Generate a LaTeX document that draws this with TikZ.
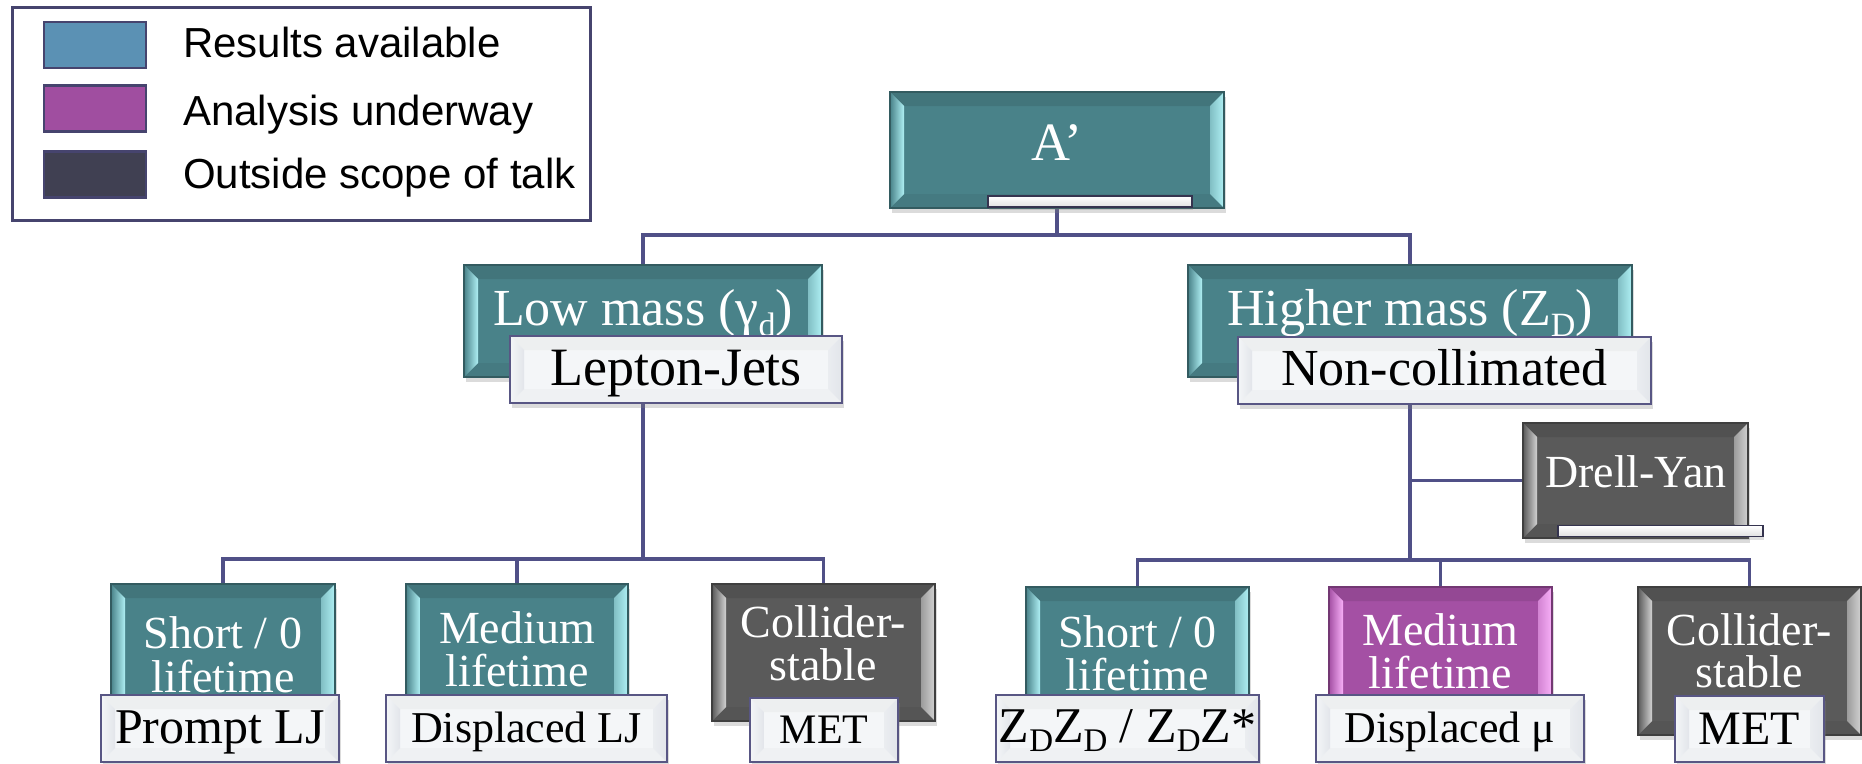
\documentclass[tikz,border=0pt]{standalone}
\usepackage{fontspec}
\setmainfont{Liberation Serif}
\newfontfamily\legendfont{Liberation Sans}
\usetikzlibrary{shadows}
\pgfdeclarelayer{bottom}
\pgfdeclarelayer{wires}
\pgfsetlayers{bottom,wires,main}
\definecolor{tealA}{RGB}{73,130,137}
\definecolor{tealL}{RGB}{175,240,244}
\definecolor{grayA}{RGB}{90,90,90}
\definecolor{grayL}{RGB}{210,210,210}
\definecolor{purpA}{RGB}{164,80,164}
\definecolor{purpL}{RGB}{248,175,248}
\definecolor{whiteA}{RGB}{244,246,248}
\definecolor{whiteL}{RGB}{226,229,234}
\definecolor{edgeC}{RGB}{88,86,132}
\definecolor{lineC}{RGB}{80,80,135}
\definecolor{legBlue}{RGB}{91,145,180}
\definecolor{legPurp}{RGB}{160,78,160}
\definecolor{legDark}{RGB}{64,64,82}
\definecolor{legEdge}{RGB}{70,68,110}
\newcommand\ppbb{path picture bounding box}
\newcommand\sbig[1]{\raisebox{-11pt}{\fontsize{34}{34}\selectfont #1}}
\newcommand\ssml[1]{\raisebox{-9pt}{\fontsize{33}{33}\selectfont #1}}
\tikzset{
  bevelbox/.style n args={5}{draw=#3, line width=1.2pt, fill=#1, inner sep=0pt, outer sep=0pt,
    drop shadow={opacity=0.28, shadow xshift=2pt, shadow yshift=-5pt},
    path picture={
      \fill[#4] (\ppbb.north west) -- (\ppbb.north east)
        -- ([xshift=-14pt,yshift=-14pt]\ppbb.north east) -- ([xshift=14pt,yshift=-14pt]\ppbb.north west) -- cycle;
      \fill[#5] (\ppbb.south west) -- (\ppbb.south east)
        -- ([xshift=-14pt,yshift=14pt]\ppbb.south east) -- ([xshift=14pt,yshift=14pt]\ppbb.south west) -- cycle;
      \shade[left color=#1, right color=#2] (\ppbb.north west) -- ([xshift=14pt,yshift=-14pt]\ppbb.north west)
        -- ([xshift=14pt,yshift=14pt]\ppbb.south west) -- (\ppbb.south west) -- cycle;
      \shade[left color=#2!55!#1, right color=#2] (\ppbb.north east) -- ([xshift=-14pt,yshift=-14pt]\ppbb.north east)
        -- ([xshift=-14pt,yshift=14pt]\ppbb.south east) -- (\ppbb.south east) -- cycle;
    }},
  tealbox/.style={bevelbox={tealA}{tealL}{tealA!70!black}{tealA!90!black}{tealA!94!black}},
  graybox/.style={bevelbox={grayA}{grayL}{grayA!70!black}{grayA!90!black}{grayA!94!black}},
  purpbox/.style={bevelbox={purpA}{purpL}{purpA!70!black}{purpA!90!black}{purpA!94!black}},
  labelbox/.style={bevelbox={whiteA}{whiteL}{edgeC}{whiteA!97!black}{whiteA!98!black}, line width=1.6pt},
  barbox/.style={draw=edgeC!60!black, line width=1.6pt, top color=white, bottom color=black!12,
    inner sep=0pt, outer sep=0pt, minimum height=11pt,
    drop shadow={opacity=0.25, shadow xshift=1pt, shadow yshift=-3pt}},
  wtxt/.style={text=white, inner sep=0pt, anchor=base, font=\fontsize{46}{44}\selectfont},
  wtxtL/.style={text=white, inner sep=0pt, anchor=base, font=\fontsize{52}{52}\selectfont},
  btxt/.style={text=black, inner sep=0pt, anchor=base, font=\fontsize{46}{44}\selectfont},
  btxtL/.style={text=black, inner sep=0pt, anchor=base, font=\fontsize{52}{52}\selectfont},
  conn/.style={draw=lineC, line width=3.5pt},
  legtxt/.style={inner sep=0pt, anchor=base west, font=\legendfont\fontsize{42}{42}\selectfont},
  swatch/.style={draw=legEdge, line width=2.5pt, minimum width=102pt, minimum height=46pt, inner sep=0pt},
}
\begin{document}
\begin{tikzpicture}[x=1pt, y=-1pt]
\begin{pgfonlayer}{bottom}
\fill[white] (0,0) rectangle (1862,763);
\end{pgfonlayer}
\useasboundingbox (0,0) rectangle (1862,763);
% legend
\node[draw=legEdge, line width=3pt, fill=white, minimum width=578pt, minimum height=213pt, inner sep=0pt] (legend) at (301,113.5) {};
\node[swatch, fill=legBlue] (sw1) at (95,45) {};
\node[swatch, fill=legPurp] (sw2) at (95,108.5) {};
\node[swatch, fill=legDark] (sw3) at (95,174.5) {};
\node[legtxt] (lt1) at (183,57) {Results available};
\node[legtxt] (lt2) at (183,125) {Analysis underway};
\node[legtxt] (lt3) at (183,188) {Outside scope of talk};
% root
\node[tealbox, minimum width=334pt, minimum height=116pt] (ap) at (1057,150) {};
\node[wtxt, font=\fontsize{54}{54}\selectfont] (tap) at (1057,160) {A’};
\node[barbox, minimum width=204pt] (apbar) at (1090,201.5) {};
% level 1
\node[tealbox, minimum width=358pt, minimum height=112pt] (low) at (643,321) {};
\node[wtxtL] (tlow) at (643,325) {Low mass (γ\sbig{d})};
\node[labelbox, minimum width=332pt, minimum height=67pt] (lj) at (676,369.5) {};
\node[btxtL, font=\fontsize{54}{54}\selectfont] (tlj) at (676,385) {Lepton-Jets};
\node[tealbox, minimum width=444pt, minimum height=112pt] (high) at (1410,321) {};
\node[wtxtL] (thigh) at (1410,325) {Higher mass (Z\sbig{D})};
\node[labelbox, minimum width=413pt, minimum height=67pt] (nc) at (1444.5,370.5) {};
\node[btxtL] (tnc) at (1444.5,385) {Non-collimated};
% Drell-Yan
\node[graybox, minimum width=225pt, minimum height=115pt] (dy) at (1635.5,480.5) {};
\node[wtxt] (tdy) at (1636,487) {Drell-Yan};
\node[barbox, minimum width=205pt] (dybar) at (1660.5,531) {};
% bottom row, left
\node[tealbox, minimum width=224pt, minimum height=144pt] (b1) at (223,656) {};
\node[wtxt] (b1a) at (223,648) {Short / 0};
\node[wtxt] (b1b) at (223,692) {lifetime};
\node[labelbox, minimum width=238pt, minimum height=67pt] (l1) at (220,728.5) {};
\node[btxt, font=\fontsize{50}{50}\selectfont] (tl1) at (220,743) {Prompt LJ};
\node[tealbox, minimum width=222pt, minimum height=144pt] (b2) at (517,656) {};
\node[wtxt] (b2a) at (517,643) {Medium};
\node[wtxt] (b2b) at (517,686) {lifetime};
\node[labelbox, minimum width=281pt, minimum height=67pt] (l2) at (526.5,728.5) {};
\node[btxt, font=\fontsize{44}{44}\selectfont] (tl2) at (526.5,742) {Displaced LJ};
\node[graybox, minimum width=223pt, minimum height=137pt] (b3) at (823.5,652.5) {};
\node[wtxt] (b3a) at (823.5,637) {Collider-};
\node[wtxt] (b3b) at (823.5,680) {stable};
\node[labelbox, minimum width=148pt, minimum height=64pt] (l3) at (824,730) {};
\node[btxt, font=\fontsize{42}{42}\selectfont] (tl3) at (824,743) {MET};
% bottom row, right
\node[tealbox, minimum width=223pt, minimum height=141pt] (b4) at (1137.5,657.5) {};
\node[wtxt] (b4a) at (1137.5,647) {Short / 0};
\node[wtxt] (b4b) at (1137.5,690) {lifetime};
\node[labelbox, minimum width=263pt, minimum height=67pt] (l4) at (1127.5,728.5) {};
\node[btxt, font=\fontsize{50}{50}\selectfont] (tl4) at (1127.5,742) {Z\ssml{D}Z\ssml{D} / Z\ssml{D}Z*};
\node[purpbox, minimum width=223pt, minimum height=141pt] (b5) at (1440.5,657.5) {};
\node[wtxt] (b5a) at (1440.5,645) {Medium};
\node[wtxt] (b5b) at (1440.5,688) {lifetime};
\node[labelbox, minimum width=268pt, minimum height=67pt] (l5) at (1450,728.5) {};
\node[btxt, font=\fontsize{44}{44}\selectfont] (tl5) at (1450,742) {Displaced μ};
\node[graybox, minimum width=223pt, minimum height=148pt] (b6) at (1749.5,661) {};
\node[wtxt] (b6a) at (1749.5,645) {Collider-};
\node[wtxt] (b6b) at (1749.5,687) {stable};
\node[labelbox, minimum width=149pt, minimum height=66pt] (l6) at (1749.5,729) {};
\node[btxt, font=\fontsize{48}{48}\selectfont] (tl6) at (1749.5,744) {MET};
% connectors
\begin{pgfonlayer}{wires}
\coordinate (top) at (1057,235);
\coordinate (lrow) at (643,559);
\coordinate (rrow) at (1410,560);
\draw[conn] (ap.center) -- (top);
\draw[conn] (low.north) |- (top) -| (high.north);
\draw[conn] (low.center) -- (lrow);
\draw[conn] (b1.north) |- (lrow) -| (b3.north);
\draw[conn] (b2.north) -- (b2.north |- lrow);
\draw[conn] (high.center) -- (rrow);
\draw[conn] (b4.north) |- (rrow) -| (b6.north);
\draw[conn] (b5.north) -- (b5.north |- rrow);
\draw[conn] (dy.west) -- (dy.west -| high.center);
\end{pgfonlayer}
\end{tikzpicture}
\end{document}
